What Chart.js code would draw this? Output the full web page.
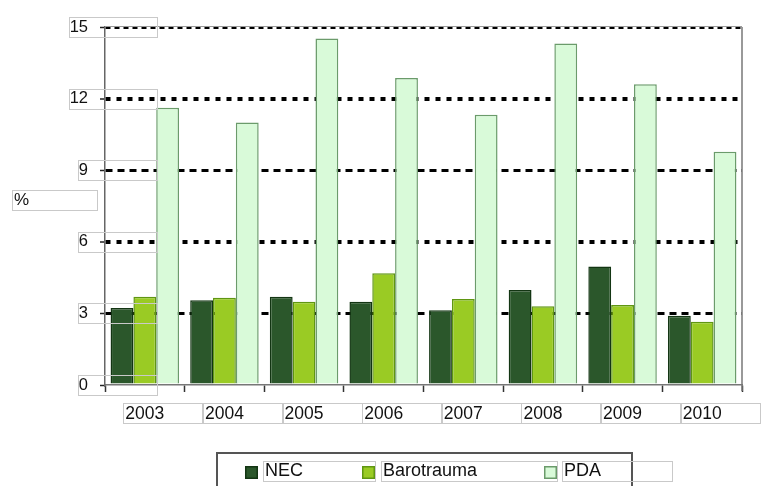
<!DOCTYPE html>
<html>
<head>
<meta charset="utf-8">
<script src="https://cdn.jsdelivr.net/npm/chart.js@4/dist/chart.umd.min.js"></script>
<style>
  html, body { margin: 0; padding: 0; background: #ffffff; }
  #wrap { width: 781px; height: 486px; position: relative; }
</style>
</head>
<body>
<div id="wrap"><canvas id="c" width="781" height="486"></canvas></div>
<script>
// Yearly incidence (%) of neonatal complications
const categories = ['2003', '2004', '2005', '2006', '2007', '2008', '2009', '2010'];
const seriesNames = ['NEC', 'Barotrauma', 'PDA'];
const necValues = [3.23, 3.55, 3.70, 3.49, 3.13, 3.98, 4.96, 2.90];
const barotraumaValues = [3.70, 3.66, 3.49, 4.68, 3.60, 3.30, 3.35, 2.65];
const pdaValues = [11.62, 11.00, 14.52, 12.86, 11.32, 14.31, 12.60, 9.77];
const yTickValues = [0, 3, 6, 9, 12, 15];
const yAxisTitle = '%';

const FONT = '"Liberation Sans", Arial, sans-serif';
const BOXGREY = '#c9c9c9';

const fills = ['#2b572b', '#9acb24', '#d9fad9'];
const edges = ['#133513', '#5f9612', '#6b9b6b'];

// per-level dash styles of the horizontal guide lines
function gridDash(v) {
  if (v === 12 || v === 6) return [5, 6];
  if (v === 15) return [5, 4];
  return [7, 5];
}
function gridWidth(v) {
  if (v === 12 || v === 6) return 4;
  return 3;
}

// light text frames, plot frame, axis title and legend
const decorations = {
  id: 'decorations',
  afterDraw(chart) {
    const ctx = chart.ctx;
    const area = chart.chartArea;
    const xs = chart.scales.x;
    const ys = chart.scales.y;
    ctx.save();

    // right and top edges of the plot frame
    ctx.strokeStyle = '#777777';
    ctx.lineWidth = 1.5;
    ctx.beginPath();
    ctx.moveTo(area.right, area.top);
    ctx.lineTo(area.right, area.bottom + 6);
    ctx.stroke();
    ctx.lineWidth = 1;
    ctx.strokeStyle = '#9a9a9a';
    ctx.beginPath();
    ctx.moveTo(area.left, area.top - 0.5);
    ctx.lineTo(area.right, area.top - 0.5);
    ctx.stroke();

    ctx.strokeStyle = BOXGREY;
    ctx.lineWidth = 1;

    // frames around y tick labels
    ctx.font = '16px ' + FONT;
    ys.ticks.forEach((t) => {
      const y = ys.getPixelForValue(t.value);
      const w = ctx.measureText(String(t.value)).width;
      const x0 = 88 - w - 1;
      ctx.strokeRect(Math.round(x0) + 0.5, Math.round(y - 10) + 0.5, 157 - Math.round(x0), 20);
    });

    // frames around x tick labels
    ctx.font = '17.5px ' + FONT;
    categories.forEach((c, i) => {
      const cx = xs.getPixelForValue(i);
      const w = ctx.measureText(c).width;
      const x0 = cx - w / 2 - 2;
      ctx.strokeRect(Math.round(x0) + 0.5, 403.5, 79, 20);
    });

    // y axis title, horizontal at left
    ctx.font = '17px ' + FONT;
    ctx.fillStyle = '#111111';
    ctx.textBaseline = 'middle';
    ctx.textAlign = 'left';
    ctx.fillText(yAxisTitle, 14, 200);
    ctx.strokeRect(12.5, 190.5, 85, 20);

    // legend
    ctx.font = '18px ' + FONT;
    ctx.strokeStyle = '#555555';
    ctx.lineWidth = 2;
    ctx.strokeRect(217, 453, 415, 40);
    const swatchX = [245, 362, 544];
    const textX = [265, 383, 564];
    const frameW = [112, 176, 110];
    chart.data.datasets.forEach((ds, i) => {
      ctx.fillStyle = ds.backgroundColor;
      ctx.fillRect(swatchX[i], 466, 13, 13);
      ctx.strokeStyle = ds.borderColor;
      ctx.lineWidth = 1.5;
      ctx.strokeRect(swatchX[i] + 0.75, 466.75, 11.5, 11.5);
      ctx.fillStyle = '#111111';
      ctx.fillText(ds.label, textX[i], 471);
      ctx.strokeStyle = BOXGREY;
      ctx.lineWidth = 1;
      ctx.strokeRect(textX[i] - 2 + 0.5, 461.5, frameW[i], 20);
    });

    ctx.restore();
  }
};

new Chart(document.getElementById('c'), {
  type: 'bar',
  data: {
    labels: categories,
    datasets: [necValues, barotraumaValues, pdaValues].map((vals, i) => ({
      label: seriesNames[i],
      data: vals,
      backgroundColor: fills[i],
      borderColor: edges[i],
      borderWidth: 1.5,
      borderSkipped: 'bottom',
      categoryPercentage: 0.86,
      barPercentage: 1.0
    }))
  },
  options: {
    responsive: false,
    animation: false,
    events: [],
    layout: { padding: { top: 27, right: 39, left: 0, bottom: 0 } },
    plugins: {
      legend: { display: false },
      title: { display: false },
      tooltip: { enabled: false }
    },
    scales: {
      x: {
        afterFit(scale) { scale.height = 101; },
        grid: {
          offset: true,
          drawOnChartArea: false,
          drawTicks: true,
          tickLength: 7,
          tickColor: '#333333',
          tickWidth: 1.5
        },
        border: { display: true, color: '#777777', width: 1.5 },
        ticks: {
          color: '#111111',
          padding: 12,
          font: { family: FONT, size: 17.5 }
        }
      },
      y: {
        min: 0,
        max: 15,
        afterFit(scale) { scale.width = 105; },
        afterBuildTicks(scale) { scale.ticks = yTickValues.map((v) => ({ value: v })); },
        grid: {
          color: (c) => (c.tick && c.tick.value === 0 ? 'rgba(0,0,0,0)' : '#000000'),
          lineWidth: (c) => (c.tick ? gridWidth(c.tick.value) : 1),
          drawTicks: true,
          tickLength: 5,
          tickColor: '#222222',
          tickWidth: 1.5,
          tickBorderDash: []
        },
        border: {
          display: true,
          color: '#666666',
          width: 1.5,
          dash: (c) => (c.tick ? gridDash(c.tick.value) : [])
        },
        ticks: {
          color: '#111111',
          padding: 12,
          font: { family: FONT, size: 16.5 }
        }
      }
    }
  },
  plugins: [decorations]
});
</script>
</body>
</html>
